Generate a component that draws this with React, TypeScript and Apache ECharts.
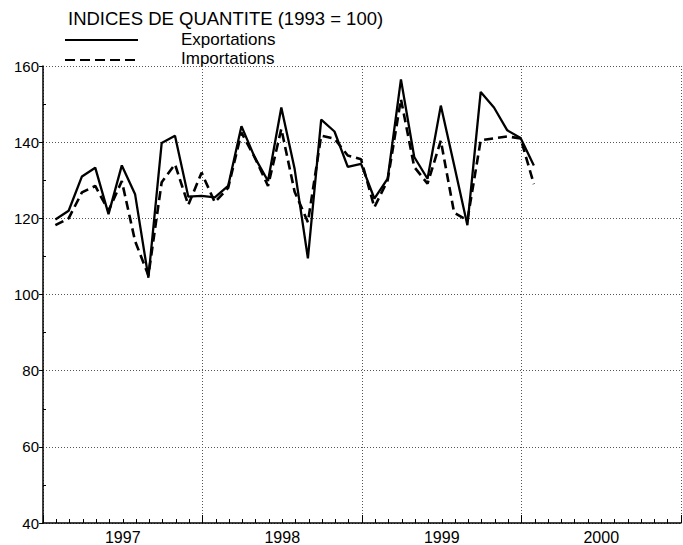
import React, { useEffect, useRef } from 'react';
import * as echarts from 'echarts';

// Monthly quantity indices (1993 = 100), Jan 1997 .. Jan 2000
const yearLabels = ['1997', '1998', '1999', '2000'];
const exportations = [
  119.7, 122.0, 131.0, 133.3, 121.1, 133.9, 126.3, 104.4, 139.8, 141.7, 125.7, 125.9,
  125.5, 128.5, 144.2, 136.0, 129.8, 149.1, 133.0, 109.5, 145.9, 142.8, 133.5, 134.3,
  125.2, 130.4, 156.5, 136.1, 130.4, 149.6, 134.0, 118.2, 153.2, 149.1, 143.1, 141.1,
  133.9,
];
const importations = [
  118.2, 120.0, 126.8, 128.5, 122.0, 129.8, 114.0, 105.0, 129.5, 134.2, 123.5, 132.0,
  124.2, 128.0, 142.5, 136.0, 128.5, 143.5, 127.0, 119.0, 141.7, 140.9, 136.5, 135.5,
  122.9, 130.0, 151.3, 133.5, 129.1, 140.4, 121.5, 119.5, 140.5, 141.0, 141.5, 141.0,
  129.0,
];
const title = 'INDICES DE QUANTITE (1993 = 100)';
const legendNames = ['Exportations', 'Importations'];

const FONT = "'Liberation Sans', Arial, Helvetica, sans-serif";
const POINT_OFFSET = 0.93; // position within month

export default function App() {
  const ref = useRef<HTMLDivElement>(null);
  useEffect(() => {
    const chart = echarts.init(ref.current!, null, { renderer: 'svg' });
    const pts = (arr: number[]) => arr.map((v, i) => [i + POINT_OFFSET, v]);
    const dotted = { type: [1, 2] as any, color: '#555', width: 1 };
    chart.setOption({
      animation: false,
      backgroundColor: '#fff',
      textStyle: { fontFamily: FONT },
      grid: { left: 43, right: 2, top: 66, bottom: 22, containLabel: false },
      xAxis: [
        {
          type: 'value',
          min: 0,
          max: 48,
          interval: 12,
          position: 'bottom',
          axisLine: { show: true, lineStyle: { color: '#000', width: 1.5 } },
          axisTick: { show: true, inside: true, length: 8, lineStyle: { color: '#000', width: 1 } },
          minorTick: { show: true, splitNumber: 12, length: 4, lineStyle: { color: '#000', width: 1 } },
          axisLabel: { show: false },
          splitLine: { show: true, lineStyle: dotted },
        },
        {
          type: 'category',
          data: yearLabels,
          position: 'bottom',
          boundaryGap: true,
          axisLine: { show: false },
          axisTick: { show: false },
          axisLabel: { fontSize: 16, margin: 6, color: '#000', fontFamily: FONT },
          splitLine: { show: false },
        },
      ],
      yAxis: [
        {
          type: 'value',
          min: 40,
          max: 160,
          interval: 20,
          position: 'left',
          axisLine: { show: true, lineStyle: { color: '#000', width: 1.5 } },
          axisTick: { show: true, length: 4, lineStyle: { color: '#000', width: 1 } },
          axisLabel: { fontSize: 15, margin: 4, color: '#000', fontFamily: FONT },
          splitLine: { show: true, lineStyle: dotted },
        },
        {
          type: 'value',
          min: 40,
          max: 160,
          interval: 20,
          position: 'left',
          offset: 0,
          axisLine: { show: false },
          axisTick: { show: false, inside: true },
          minorTick: { show: true, splitNumber: 2, length: 3, lineStyle: { color: '#000', width: 1 } },
          axisLabel: { show: false },
          splitLine: { show: false },
        },
      ],
      series: [
        {
          name: legendNames[0],
          type: 'line',
          xAxisIndex: 0,
          yAxisIndex: 0,
          data: pts(exportations),
          symbol: 'none',
          lineStyle: { color: '#000', width: 2.3 },
          z: 3,
        },
        {
          name: legendNames[1],
          type: 'line',
          xAxisIndex: 0,
          yAxisIndex: 0,
          data: pts(importations),
          symbol: 'none',
          lineStyle: { color: '#000', width: 2.6, type: [9, 5] },
          z: 2,
        },
      ],
      graphic: [
        { type: 'text', left: 68, top: 9, style: { text: title, fontSize: 18.5, fill: '#000', fontFamily: FONT } },
        { type: 'line', shape: { x1: 65, y1: 40, x2: 138, y2: 40 }, style: { stroke: '#000', lineWidth: 2 } },
        { type: 'text', left: 181, top: 31, style: { text: legendNames[0], fontSize: 17, fill: '#000', fontFamily: FONT } },
        { type: 'line', shape: { x1: 65, y1: 60, x2: 138, y2: 60 }, style: { stroke: '#000', lineWidth: 2.2, lineDash: [10, 5] } },
        { type: 'text', left: 181, top: 50, style: { text: legendNames[1], fontSize: 17, fill: '#000', fontFamily: FONT } },
      ],
    });
    return () => chart.dispose();
  }, []);
  return (
    <div
      ref={ref}
      style={{ position: 'absolute', left: 0, top: 0, width: 683, height: 545, background: '#fff' }}
    />
  );
}
